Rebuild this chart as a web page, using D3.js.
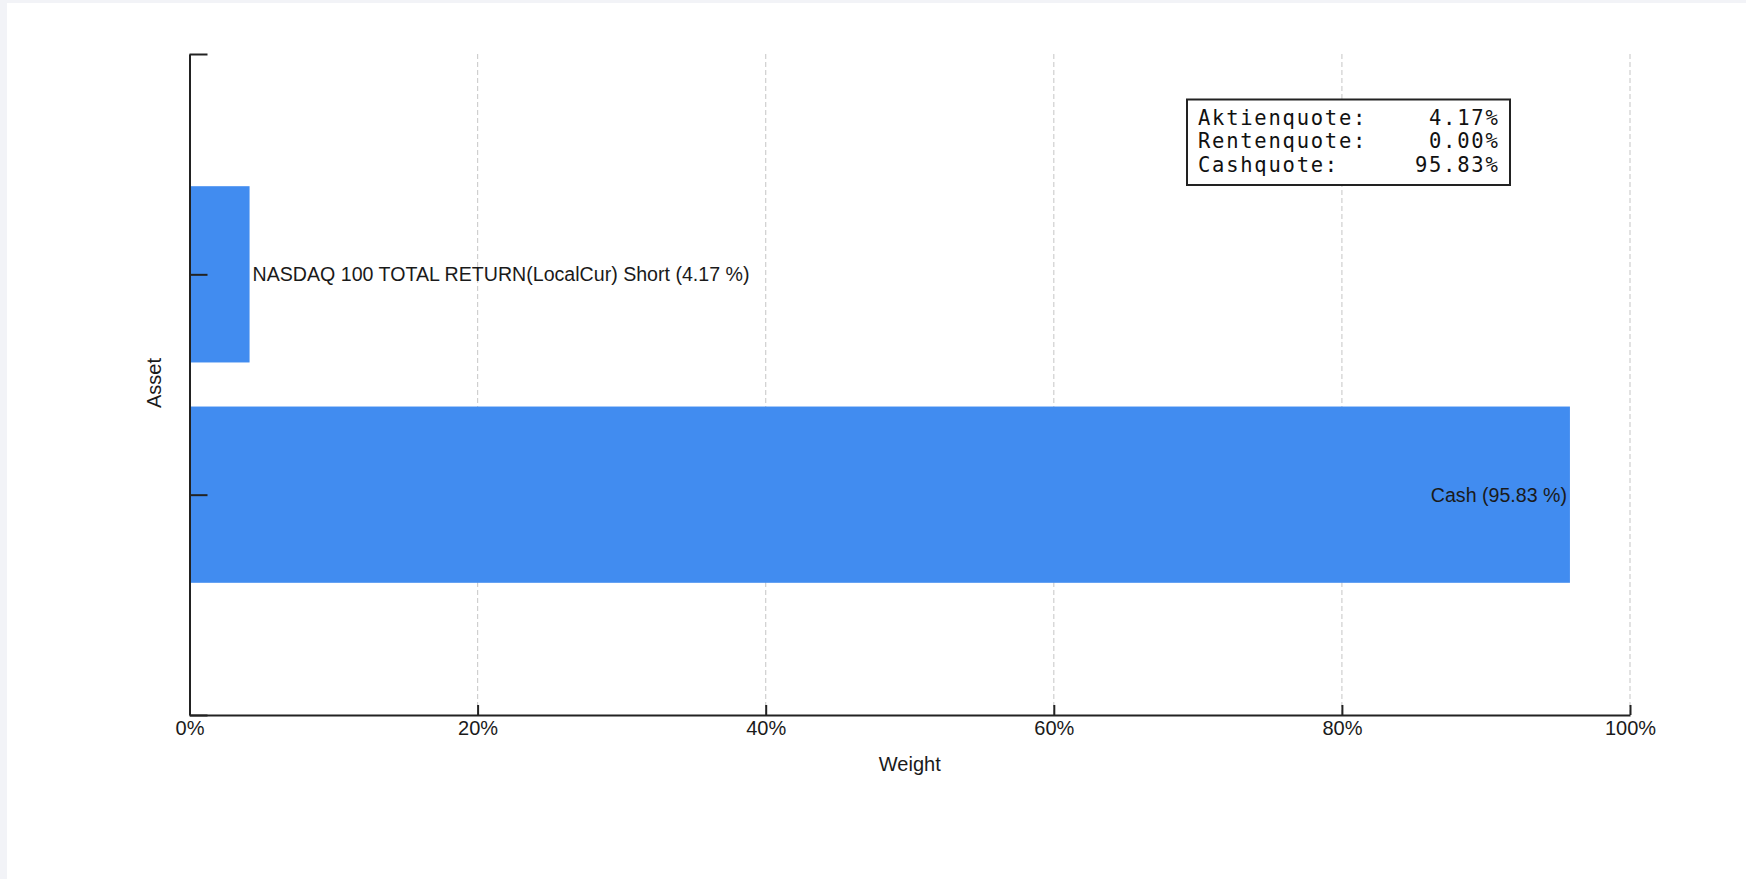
<!DOCTYPE html>
<html>
<head>
<meta charset="utf-8">
<script src="https://cdn.jsdelivr.net/npm/d3@7"></script>
<style>
  html, body { margin: 0; padding: 0; background: #f2f3f7; }
  svg { display: block; }
</style>
</head>
<body>
<script>
// ---- data ----
const categories = ["Cash", "NASDAQ 100 TOTAL RETURN(LocalCur) Short"];
const weights = [95.83, 4.17];
const xTicks = [0, 20, 40, 60, 80, 100];
const quoteLabels = ["Aktienquote:", "Rentenquote:", "Cashquote:"];
const quoteValues = [4.17, 0.00, 95.83];

// ---- layout ----
const W = 1746, H = 879;
const plotLeft = 189.5, plotRight = 1630, plotTop = 54, plotBottom = 715;
const FONT = "'Liberation Sans', Arial, sans-serif";
const MONO = "'DejaVu Sans Mono', 'Liberation Mono', monospace";

const svg = d3.select("body").append("svg").attr("width", W).attr("height", H);
svg.append("rect").attr("x", 7).attr("y", 3).attr("width", W - 7).attr("height", H - 3).attr("fill", "#ffffff");

const x = d3.scaleLinear().domain([0, 100]).range([plotLeft, plotRight]);
const y = d3.scaleLinear().domain([0, categories.length + 1]).range([plotBottom, plotTop]);

// gridlines
svg.append("g").selectAll("line").data(xTicks.filter(d => d > 0)).join("line")
  .attr("x1", d => x(d)).attr("x2", d => x(d))
  .attr("y1", plotTop).attr("y2", plotBottom)
  .attr("stroke", "#cfcfcf").attr("stroke-width", 1.2).attr("stroke-dasharray", "5,3");

// bars
const data = categories.map((c, i) => ({ name: c, value: weights[i], pos: i + 1 }));
svg.append("g").selectAll("rect").data(data).join("rect")
  .attr("x", x(0))
  .attr("y", d => y(d.pos + 0.4))
  .attr("width", d => x(d.value) - x(0))
  .attr("height", d => y(d.pos - 0.4) - y(d.pos + 0.4))
  .attr("fill", "#418cf0");

// bar labels
svg.append("g").selectAll("text").data(data).join("text")
  .attr("x", d => d.value > 50 ? x(d.value) - 3 : x(d.value) + 3)
  .attr("y", d => y(d.pos))
  .attr("dy", "0.35em")
  .attr("text-anchor", d => d.value > 50 ? "end" : "start")
  .attr("font-family", FONT).attr("font-size", 19.6).attr("fill", "#1a1a1a")
  .text(d => `${d.name} (${d.value.toFixed(2)} %)`);

// x axis
const xAxis = svg.append("g").attr("transform", `translate(0,${plotBottom})`)
  .call(d3.axisBottom(x).tickValues(xTicks).tickSizeInner(-10).tickSizeOuter(0)
    .tickPadding(6).tickFormat(d => d + "%"));
xAxis.select(".domain").attr("stroke", "#222").attr("stroke-width", 2);
xAxis.selectAll(".tick line").attr("stroke", "#222").attr("stroke-width", 2);
xAxis.selectAll(".tick text").attr("font-family", FONT).attr("font-size", 20).attr("fill", "#1a1a1a");

// y axis
const yTickVals = d3.range(0, categories.length + 2);
const yAxis = svg.append("g").attr("transform", `translate(${plotLeft},0)`)
  .call(d3.axisLeft(y).tickValues(yTickVals).tickSizeInner(-18).tickSizeOuter(0).tickFormat(""));
yAxis.select(".domain").attr("stroke", "#222").attr("stroke-width", 2);
yAxis.selectAll(".tick line").attr("stroke", "#222").attr("stroke-width", 2);

// axis titles
svg.append("text").attr("x", (plotLeft + plotRight) / 2).attr("y", 771)
  .attr("text-anchor", "middle").attr("font-family", FONT).attr("font-size", 20).attr("fill", "#1a1a1a")
  .text("Weight");
svg.append("text").attr("transform", "translate(161,383) rotate(-90)")
  .attr("text-anchor", "middle").attr("font-family", FONT).attr("font-size", 20).attr("fill", "#1a1a1a")
  .text("Asset");

// legend box
const lg = svg.append("g");
lg.append("rect").attr("x", 1187).attr("y", 99.5).attr("width", 323).attr("height", 85.5)
  .attr("fill", "#ffffff").attr("stroke", "#222").attr("stroke-width", 2);
quoteLabels.forEach((lab, i) => {
  lg.append("text").attr("x", 1198).attr("y", 125 + i * 23.3)
    .attr("font-family", MONO).attr("font-size", 20.5).attr("letter-spacing", 1.75).attr("fill", "#111")
    .text(lab);
  lg.append("text").attr("x", 1499.5).attr("y", 125 + i * 23.3)
    .attr("text-anchor", "end")
    .attr("font-family", MONO).attr("font-size", 20.5).attr("letter-spacing", 1.75).attr("fill", "#111")
    .text(quoteValues[i].toFixed(2) + "%");
});
</script>
</body>
</html>
